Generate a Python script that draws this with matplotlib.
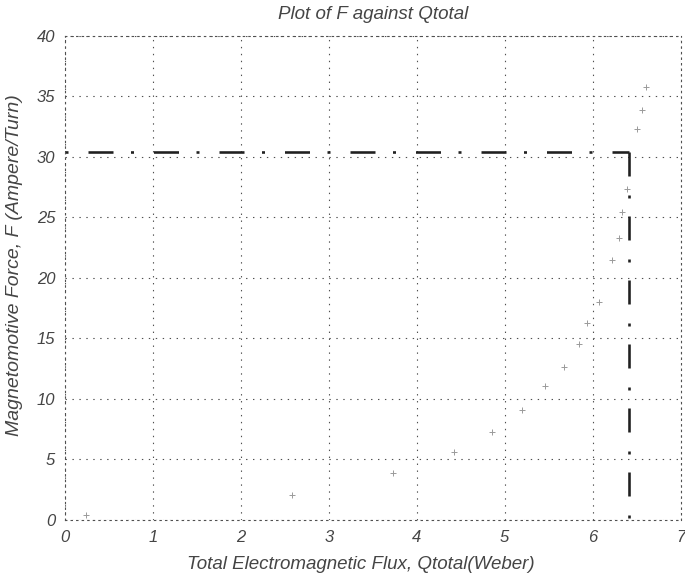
"""
plot.py

Plot of F against Qtotal: magnetomotive force vs total electromagnetic flux.

"""
import matplotlib
matplotlib.use("Agg")
import matplotlib.pyplot as plt

# limiting lines (flux limit and mmf limit)
q_limit_h = [0.0, 6.41]
f_limit_h = [30.4, 30.4]
q_limit_v = [6.41, 6.41]
f_limit_v = [30.4, 0.0]

# measured points along the magnetisation curve
q_points = [0.24, 2.58, 3.73, 4.42, 4.86, 5.20, 5.46, 5.67, 5.84, 5.94,
            6.07, 6.22, 6.30, 6.33, 6.39, 6.50, 6.56, 6.61]
f_points = [0.4, 2.1, 3.9, 5.6, 7.3, 9.1, 11.1, 12.6, 14.5, 16.3,
            18.0, 21.5, 23.3, 25.4, 27.3, 32.3, 33.9, 35.8]

x_ticks = [0, 1, 2, 3, 4, 5, 6, 7]
y_ticks = [0, 5, 10, 15, 20, 25, 30, 35, 40]

plt.rcParams["font.family"] = ["Liberation Sans", "DejaVu Sans"]
plt.rcParams["lines.scale_dashes"] = False
text_col = "#454545"


def plot_f_vs_q():
    fig = plt.figure(figsize=(6.85, 5.73), dpi=100)
    ax = fig.add_axes([0.095, 0.0925, 0.8985, 0.8452])

    # dotted grid, matlab style
    ax.set_axisbelow(True)
    ax.grid(True, color="#505050", linewidth=0.8, linestyle=(0, (1, 4)))

    ax.plot(q_points, f_points, linestyle="none", marker="+", markersize=4,
            markeredgewidth=0.7, color="#9a9a9a")

    px = 0.72  # points per pixel at 100 dpi
    ax.plot(q_limit_h, f_limit_h, color="#202020", linewidth=2.6 * px,
            linestyle=(0, (3 * px, 20 * px, 25 * px, 17.5 * px)),
            dash_capstyle="butt")
    ax.plot(q_limit_v, f_limit_v, color="#202020", linewidth=2.6 * px,
            linestyle=(0, (24 * px, 19 * px, 3 * px, 18 * px)),
            dash_capstyle="butt")

    ax.set_xlim(0, 7)
    ax.set_ylim(0, 40)
    ax.set_xticks(x_ticks)
    ax.set_yticks(y_ticks)
    ax.tick_params(length=0, pad=7, labelsize=12, labelcolor=text_col)
    for lab in ax.get_xticklabels() + ax.get_yticklabels():
        lab.set_style("italic")

    for s in ax.spines.values():
        s.set_color("#505050")
        s.set_linewidth(0.8)
        s.set_linestyle((0, (1, 3)))

    ax.set_title("Plot of F against Qtotal", fontsize=13.5, style="italic",
                 color=text_col, pad=12)
    ax.set_xlabel("Total Electromagnetic Flux, Qtotal(Weber)", fontsize=13.5,
                  style="italic", color=text_col, labelpad=2)
    ax.xaxis.set_label_coords(0.481, -0.075)
    ax.set_ylabel("Magnetomotive Force, F (Ampere/Turn)", fontsize=14,
                  style="italic", color=text_col)
    ax.yaxis.set_label_coords(-0.068, 0.527)

    fig.savefig("out.png", dpi=100)


if __name__ == "__main__":
    plot_f_vs_q()
